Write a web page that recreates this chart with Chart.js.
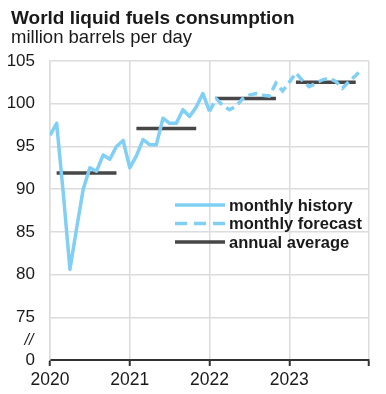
<!DOCTYPE html>
<html>
<head>
<meta charset="utf-8">
<script src="https://cdn.jsdelivr.net/npm/chart.js@4.4.0/dist/chart.umd.min.js"></script>
<style>
  html, body { margin: 0; padding: 0; background: #fff; }
  #wrap { width: 386px; height: 394px; }
</style>
</head>
<body>
<div id="wrap"><canvas id="fuels" width="386" height="394"></canvas></div>
<script>
"use strict";

// Years shown on the x axis (ticks every 12 months).
var years = ["2020", "2021", "2022", "2023"];

// Monthly history, Jan 2020 - Jan 2022.
var monthlyHistory = [96.3, 97.7, 89.5, 80.6, 85.4, 90.0, 92.5, 92.1, 94.0, 93.5, 95.0, 95.7,
                      92.5, 93.9, 95.8, 95.2, 95.2, 98.3, 97.7, 97.7, 99.3, 98.5, 99.6, 101.2,
                      99.1];

// Monthly forecast, Jan 2022 (joins history) - Dec 2023.
var forecastStart = 24;
var monthlyForecast = [99.1, 100.6, 99.8, 99.3, 99.7, 100.6, 101.0, 101.2, 101.0, 100.9, 102.4, 101.5,
                       102.5, 103.6, 102.7, 102.0, 102.4, 102.8, 103.0, 102.6, 101.8, 102.6, 103.3, 104.1];

// Annual averages, one per year.
var annualAverage = [91.9, 97.1, 100.6, 102.5];

var blue = "#80cff5";
var dark = "rgba(55,55,55,0.92)";
var font = "'Liberation Sans', Arial, sans-serif";

function toPoints(values, start) {
    return values.map(function (v, i) { return { x: start + i, y: v }; });
}

//Annual average bars run from Feb to Nov of each year, with gaps between.
var annualPoints = [];
annualAverage.forEach(function (v, i) {
    annualPoints.push({ x: i * 12 + 1, y: v });
    annualPoints.push({ x: i * 12 + 10, y: v });
    annualPoints.push({ x: i * 12 + 11, y: null });
});

//Title block, legend inside the plot, and the axis break mark.
var extras = {
    id: "extras",
    afterDraw: function (chart) {
        var c = chart.ctx;
        c.save();
        c.fillStyle = "#1a1a1a";
        c.textAlign = "left";
        c.textBaseline = "alphabetic";
        c.font = "bold 19px " + font;
        c.fillText("World liquid fuels consumption", 11, 24);
        c.font = "18.5px " + font;
        c.fillText("million barrels per day", 11, 43);

        var rows = [
            { text: "monthly history", color: blue, dash: [] },
            { text: "monthly forecast", color: blue, dash: [12, 7] },
            { text: "annual average", color: dark, dash: [] }
        ];
        rows.forEach(function (r, i) {
            var y = 205 + i * 18.5;
            c.beginPath();
            c.setLineDash(r.dash);
            c.strokeStyle = r.color;
            c.lineWidth = 3.5;
            c.moveTo(175, y);
            c.lineTo(225, y);
            c.stroke();
            c.setLineDash([]);
            c.fillStyle = "#1a1a1a";
            c.font = "bold 16.5px " + font;
            c.textBaseline = "middle";
            c.fillText(r.text, 229, y + 1);
        });
        c.font = "italic 16px " + font;
        c.fillStyle = "#222";
        c.textAlign = "center";
        c.fillText("//", 29, 341);
        c.restore();
    }
};

var ctx = document.getElementById("fuels").getContext("2d");
var chart = new Chart(ctx, {
    type: "line",
    data: {
        datasets: [{
            label: "monthly history",
            data: toPoints(monthlyHistory, 0),
            borderColor: blue,
            borderWidth: 3.5,
            pointRadius: 0,
            tension: 0,
            borderJoinStyle: "round"
        }, {
            label: "monthly forecast",
            data: toPoints(monthlyForecast, forecastStart),
            borderColor: blue,
            borderWidth: 3.5,
            borderDash: [9, 5],
            pointRadius: 0,
            tension: 0
        }, {
            label: "annual average",
            data: annualPoints,
            borderColor: dark,
            borderWidth: 3.5,
            pointRadius: 0,
            spanGaps: false
        }]
    },
    options: {
        responsive: false,
        animation: false,
        devicePixelRatio: 1,
        layout: { padding: { left: 0, right: 17, top: 61, bottom: 0 } },
        plugins: {
            legend: { display: false },
            tooltip: { enabled: false }
        },
        scales: {
            x: {
                type: "linear",
                min: 0,
                max: 48,
                afterFit: function (s) { s.height = 34; },
                afterBuildTicks: function (s) {
                    s.ticks = [0, 12, 24, 36, 48].map(function (v) { return { value: v }; });
                },
                ticks: {
                    padding: 4,
                    color: "#1a1a1a",
                    font: { family: font, size: 17.5 },
                    maxRotation: 0,
                    callback: function (v) { return years[v / 12] || ""; }
                },
                grid: { color: "#dcdcdc", lineWidth: 1.5, tickLength: 6, tickColor: "#333", tickWidth: 2 },
                border: { color: "#333", width: 2 }
            },
            y: {
                min: 70,
                max: 105,
                afterFit: function (s) { s.width = 50; },
                ticks: {
                    stepSize: 5,
                    padding: 15,
                    color: "#1a1a1a",
                    font: { family: font, size: 17 },
                    callback: function (v) { return v === 70 ? "0" : v; }
                },
                grid: { color: "#dcdcdc", lineWidth: 1.5, drawTicks: false },
                border: { color: "#dcdcdc", width: 1.5 }
            }
        }
    },
    plugins: [extras]
});
</script>
</body>
</html>
